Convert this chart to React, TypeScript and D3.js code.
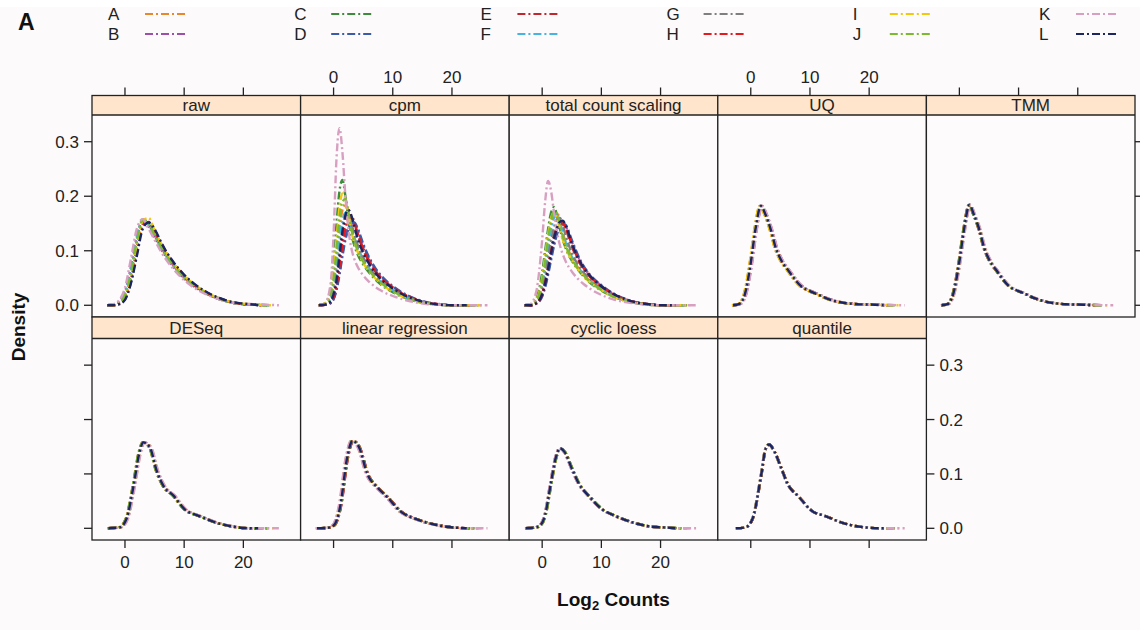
import React from 'react';
import * as d3 from 'd3';

// ---------- data ----------
const SERIES = ['A', 'B', 'C', 'D', 'E', 'F', 'G', 'H', 'I', 'J', 'K', 'L'];
const COLORS = ['#E8872B', '#9B4FA8', '#3C8C3C', '#3A5BA8', '#C0272D', '#45B4E0', '#7F7F7F', '#E41A1C', '#F2C80F', '#7CBB2F', '#D8A0C0', '#1B2560'];
const PANELS = ['raw', 'cpm', 'total count scaling', 'UQ', 'TMM', 'DESeq', 'linear regression', 'cyclic loess', 'quantile'];
const X_TICKS = [0, 10, 20];
const Y_TICKS = [0, 0.1, 0.2, 0.3];
const Y_TICK_LABELS = ['0.0', '0.1', '0.2', '0.3'];
const X_DOMAIN = [-5.57, 29.67];
const Y_DOMAIN = [-0.0215, 0.349];
// right end of each sample's density support
const SERIES_END = [24, 24, 24.5, 23, 23.5, 24, 23, 23, 25, 24, 26, 22.5];

// raw
const RAW_X = [-3, -2, -1, 0, 1, 2, 3, 4, 5, 6, 7, 8, 10, 12, 14, 16, 18, 20, 22, 24, 26];
const RAW_Y = [
  [0, 0.001, 0.005, 0.02, 0.06, 0.12, 0.158, 0.148, 0.128, 0.108, 0.09, 0.075, 0.05, 0.033, 0.02, 0.011, 0.005, 0.002, 0.001, 0, 0],
  [0, 0.001, 0.006, 0.025, 0.07, 0.125, 0.156, 0.145, 0.125, 0.105, 0.088, 0.073, 0.049, 0.032, 0.02, 0.011, 0.005, 0.002, 0.001, 0, 0],
  [0, 0.001, 0.004, 0.018, 0.055, 0.115, 0.157, 0.15, 0.13, 0.11, 0.092, 0.077, 0.052, 0.034, 0.021, 0.012, 0.005, 0.002, 0.001, 0, 0],
  [0, 0, 0.002, 0.011, 0.042, 0.095, 0.143, 0.152, 0.138, 0.117, 0.097, 0.081, 0.055, 0.036, 0.022, 0.013, 0.006, 0.003, 0.001, 0, 0],
  [0, 0, 0.003, 0.014, 0.05, 0.105, 0.15, 0.152, 0.135, 0.114, 0.095, 0.079, 0.053, 0.035, 0.021, 0.012, 0.006, 0.002, 0.001, 0, 0],
  [0, 0.001, 0.005, 0.022, 0.064, 0.122, 0.157, 0.147, 0.127, 0.107, 0.089, 0.074, 0.05, 0.033, 0.02, 0.011, 0.005, 0.002, 0.001, 0, 0],
  [0, 0, 0.003, 0.015, 0.052, 0.108, 0.152, 0.151, 0.133, 0.112, 0.093, 0.078, 0.053, 0.035, 0.021, 0.012, 0.005, 0.002, 0.001, 0, 0],
  [0, 0, 0.003, 0.013, 0.048, 0.102, 0.148, 0.153, 0.136, 0.115, 0.096, 0.08, 0.054, 0.035, 0.022, 0.012, 0.006, 0.002, 0.001, 0, 0],
  [0, 0, 0.003, 0.016, 0.053, 0.11, 0.155, 0.16, 0.138, 0.115, 0.095, 0.079, 0.054, 0.036, 0.022, 0.012, 0.006, 0.003, 0.001, 0, 0],
  [0, 0.001, 0.004, 0.019, 0.058, 0.117, 0.156, 0.149, 0.129, 0.109, 0.091, 0.076, 0.051, 0.034, 0.021, 0.011, 0.005, 0.002, 0.001, 0, 0],
  [0, 0.002, 0.009, 0.032, 0.085, 0.14, 0.158, 0.14, 0.12, 0.1, 0.083, 0.069, 0.046, 0.03, 0.019, 0.011, 0.005, 0.003, 0.002, 0.001, 0],
  [0, 0, 0.002, 0.01, 0.04, 0.09, 0.14, 0.152, 0.14, 0.118, 0.098, 0.082, 0.056, 0.037, 0.023, 0.013, 0.006, 0.003, 0.001, 0, 0],
];

// cpm
const CPM_X = [-2.5, -1.5, -0.5, 0, 0.5, 1, 1.5, 2, 2.5, 3, 3.5, 4, 5, 6, 7, 8, 10, 12, 14, 16, 18, 20, 22];
const CPM_Y = [
  [0, 0.002, 0.015, 0.04, 0.085, 0.14, 0.175, 0.185, 0.17, 0.145, 0.123, 0.106, 0.083, 0.066, 0.053, 0.042, 0.027, 0.016, 0.008, 0.004, 0.001, 0, 0],
  [0, 0.001, 0.004, 0.012, 0.03, 0.06, 0.095, 0.125, 0.143, 0.15, 0.15, 0.14, 0.11, 0.086, 0.067, 0.053, 0.034, 0.02, 0.011, 0.005, 0.002, 0, 0],
  [0, 0.003, 0.03, 0.08, 0.15, 0.21, 0.23, 0.2, 0.16, 0.13, 0.11, 0.095, 0.075, 0.06, 0.048, 0.038, 0.024, 0.014, 0.007, 0.003, 0.001, 0, 0],
  [0, 0.001, 0.004, 0.011, 0.028, 0.056, 0.09, 0.12, 0.14, 0.15, 0.152, 0.143, 0.113, 0.088, 0.069, 0.055, 0.035, 0.021, 0.011, 0.005, 0.002, 0, 0],
  [0, 0.001, 0.006, 0.017, 0.04, 0.08, 0.12, 0.15, 0.163, 0.165, 0.152, 0.133, 0.102, 0.08, 0.063, 0.05, 0.032, 0.019, 0.01, 0.004, 0.002, 0, 0],
  [0, 0.002, 0.012, 0.032, 0.07, 0.12, 0.155, 0.17, 0.165, 0.145, 0.125, 0.108, 0.085, 0.068, 0.054, 0.043, 0.028, 0.016, 0.009, 0.004, 0.001, 0, 0],
  [0, 0.001, 0.009, 0.025, 0.055, 0.1, 0.14, 0.16, 0.165, 0.15, 0.13, 0.113, 0.088, 0.07, 0.056, 0.045, 0.029, 0.017, 0.009, 0.004, 0.001, 0, 0],
  [0, 0.001, 0.005, 0.015, 0.036, 0.072, 0.11, 0.14, 0.157, 0.16, 0.15, 0.134, 0.104, 0.082, 0.064, 0.051, 0.033, 0.019, 0.01, 0.004, 0.002, 0, 0],
  [0, 0.003, 0.025, 0.065, 0.12, 0.18, 0.205, 0.195, 0.165, 0.135, 0.115, 0.1, 0.078, 0.062, 0.05, 0.04, 0.025, 0.015, 0.008, 0.003, 0.001, 0, 0],
  [0, 0.002, 0.02, 0.05, 0.1, 0.16, 0.19, 0.195, 0.17, 0.14, 0.118, 0.102, 0.08, 0.064, 0.051, 0.041, 0.026, 0.015, 0.008, 0.003, 0.001, 0, 0],
  [0, 0.002, 0.04, 0.13, 0.27, 0.325, 0.28, 0.2, 0.14, 0.105, 0.085, 0.072, 0.055, 0.043, 0.034, 0.027, 0.017, 0.01, 0.005, 0.002, 0.001, 0, 0],
  [0, 0.001, 0.007, 0.02, 0.045, 0.09, 0.135, 0.165, 0.175, 0.165, 0.145, 0.125, 0.096, 0.076, 0.06, 0.048, 0.031, 0.018, 0.01, 0.004, 0.001, 0, 0],
];

// total count scaling
const TCS_X = [-3, -2, -1, 0, 0.5, 1, 1.5, 2, 2.5, 3, 3.5, 4, 5, 6, 7, 8, 10, 12, 14, 16, 18, 20, 23];
const TCS_Y = [
  [0, 0.001, 0.007, 0.038, 0.07, 0.11, 0.145, 0.165, 0.17, 0.155, 0.133, 0.114, 0.088, 0.07, 0.056, 0.045, 0.029, 0.017, 0.009, 0.004, 0.002, 0, 0],
  [0, 0, 0.003, 0.018, 0.036, 0.06, 0.088, 0.114, 0.134, 0.145, 0.148, 0.144, 0.117, 0.091, 0.071, 0.056, 0.036, 0.021, 0.011, 0.005, 0.002, 0, 0],
  [0, 0.001, 0.012, 0.06, 0.1, 0.14, 0.17, 0.18, 0.165, 0.14, 0.12, 0.104, 0.082, 0.066, 0.053, 0.042, 0.027, 0.016, 0.008, 0.004, 0.001, 0, 0],
  [0, 0, 0.003, 0.016, 0.033, 0.056, 0.083, 0.109, 0.13, 0.143, 0.15, 0.147, 0.12, 0.093, 0.072, 0.057, 0.037, 0.022, 0.012, 0.005, 0.002, 0, 0],
  [0, 0, 0.004, 0.022, 0.044, 0.072, 0.103, 0.13, 0.148, 0.155, 0.152, 0.14, 0.108, 0.084, 0.066, 0.053, 0.034, 0.02, 0.011, 0.005, 0.002, 0, 0],
  [0, 0.001, 0.007, 0.035, 0.065, 0.103, 0.138, 0.16, 0.165, 0.152, 0.132, 0.114, 0.089, 0.071, 0.057, 0.046, 0.03, 0.017, 0.009, 0.004, 0.002, 0, 0],
  [0, 0.001, 0.005, 0.028, 0.052, 0.085, 0.118, 0.143, 0.158, 0.16, 0.146, 0.127, 0.096, 0.075, 0.06, 0.048, 0.031, 0.018, 0.01, 0.004, 0.002, 0, 0],
  [0, 0, 0.004, 0.02, 0.041, 0.068, 0.098, 0.124, 0.142, 0.15, 0.15, 0.142, 0.112, 0.087, 0.068, 0.054, 0.035, 0.02, 0.011, 0.005, 0.002, 0, 0],
  [0, 0.001, 0.01, 0.05, 0.09, 0.13, 0.16, 0.17, 0.16, 0.14, 0.12, 0.105, 0.083, 0.067, 0.054, 0.043, 0.028, 0.016, 0.009, 0.004, 0.001, 0, 0],
  [0, 0.001, 0.008, 0.045, 0.08, 0.12, 0.155, 0.172, 0.168, 0.148, 0.126, 0.109, 0.085, 0.068, 0.055, 0.044, 0.028, 0.016, 0.009, 0.004, 0.001, 0, 0],
  [0, 0.002, 0.025, 0.12, 0.19, 0.228, 0.21, 0.17, 0.135, 0.11, 0.093, 0.08, 0.062, 0.049, 0.039, 0.031, 0.019, 0.011, 0.006, 0.003, 0.001, 0, 0],
  [0, 0, 0.004, 0.02, 0.04, 0.066, 0.095, 0.122, 0.142, 0.153, 0.155, 0.146, 0.114, 0.088, 0.069, 0.055, 0.035, 0.021, 0.011, 0.005, 0.002, 0, 0],
];

// normalised panels: common curve + per-sample horizontal offset
const UQ_X = [-3, -2, -1, 0, 0.8, 1.7, 2.5, 3.4, 4.2, 4.8, 5.5, 6.2, 7.2, 8.4, 10, 11.3, 12.7, 14.1, 16, 18, 21, 26];
const UQ_Y = [0, 0.002, 0.02, 0.078, 0.14, 0.182, 0.166, 0.138, 0.106, 0.09, 0.076, 0.066, 0.051, 0.036, 0.026, 0.02, 0.013, 0.008, 0.004, 0.002, 0.001, 0];
const UQ_SHIFT = [0.1, -0.1, 0, 0.15, -0.15, 0.05, -0.05, 0.2, -0.2, 0.1, 0.25, 0];

const TMM_X = [-3, -2, -1, 0, 0.8, 1.7, 2.5, 3.4, 4.2, 4.8, 5.5, 6.2, 7.2, 8.4, 10, 11.3, 12.7, 14.1, 16, 18, 21, 26];
const TMM_Y = [0, 0.002, 0.022, 0.08, 0.14, 0.184, 0.165, 0.138, 0.105, 0.089, 0.075, 0.065, 0.05, 0.035, 0.026, 0.02, 0.013, 0.008, 0.004, 0.002, 0.001, 0];
const TMM_SHIFT = [0.08, -0.08, 0.12, 0.05, -0.12, 0.0, 0.1, -0.05, 0.15, -0.1, 0.2, 0];

const DESEQ_X = [-2.8, -1.5, -0.85, 0.28, 1.4, 2.5, 3.1, 4.2, 5.35, 6.5, 8.2, 10.1, 12.7, 15.5, 18.3, 21.7, 27];
const DESEQ_Y = [0, 0.001, 0.002, 0.018, 0.075, 0.142, 0.158, 0.149, 0.106, 0.078, 0.06, 0.035, 0.022, 0.01, 0.003, 0, 0];
const DESEQ_SHIFT = [0.1, -0.1, 0.05, 0.15, -0.05, 0.0, 0.12, -0.12, 0.2, -0.15, 0.25, 0];

const LINREG_X = [-2.8, -1, 0, 1.1, 2.3, 3.2, 4.3, 5.7, 7.4, 9.1, 11.3, 14.2, 17, 19.8, 23, 26.3];
const LINREG_Y = [0, 0.001, 0.005, 0.039, 0.13, 0.161, 0.149, 0.1, 0.075, 0.057, 0.031, 0.016, 0.007, 0.002, 0, 0];
const LINREG_SHIFT = [-0.1, 0.1, -0.15, 0.12, 0.05, -0.05, 0.0, 0.15, -0.2, 0.08, -0.25, 0];

const LOESS_X = [-2.8, -1.5, -0.5, 0.5, 1.5, 2.3, 3, 3.8, 5, 6.2, 8, 10, 12.5, 15.5, 18.5, 21.5, 24];
const LOESS_Y = [0, 0.001, 0.004, 0.025, 0.085, 0.13, 0.147, 0.14, 0.11, 0.082, 0.058, 0.036, 0.022, 0.01, 0.003, 0.001, 0];
const LOESS_SHIFT = [0.05, -0.05, 0.08, -0.08, 0.1, 0.0, -0.1, 0.06, -0.06, 0.12, -0.12, 0];

const QUANT_X = [-2.5, -0.85, 0.28, 1.7, 2.5, 3.1, 3.9, 5.1, 6.2, 8.2, 10.2, 12.7, 15.5, 18.3, 22.3];
const QUANT_Y = [0, 0.002, 0.017, 0.094, 0.146, 0.154, 0.143, 0.112, 0.082, 0.057, 0.033, 0.022, 0.01, 0.003, 0];
const QUANT_SHIFT = [0.04, -0.04, 0.06, -0.06, 0.03, 0.0, -0.03, 0.05, -0.05, 0.02, -0.02, 0];

// ---------- build curves ----------
type Pt = [number, number];

function explicitCurves(xs: number[], ys: number[][]): Pt[][] {
  return ys.map((row) => row.map((y, i) => [xs[i], y] as Pt));
}
function sharedCurves(xs: number[], ys: number[], shifts: number[]): Pt[][] {
  return shifts.map((s) => ys.map((y, i) => [xs[i] + s, y] as Pt));
}
function trimToEnd(pts: Pt[], end: number): Pt[] {
  const kept = pts.filter((p) => p[0] <= end);
  const last = kept[kept.length - 1];
  if (last && last[0] < end && last[1] < 0.004) kept.push([end, 0]);
  return kept;
}

const PANEL_CURVES: Pt[][][] = [
  explicitCurves(RAW_X, RAW_Y),
  explicitCurves(CPM_X, CPM_Y),
  explicitCurves(TCS_X, TCS_Y),
  sharedCurves(UQ_X, UQ_Y, UQ_SHIFT),
  sharedCurves(TMM_X, TMM_Y, TMM_SHIFT),
  sharedCurves(DESEQ_X, DESEQ_Y, DESEQ_SHIFT),
  sharedCurves(LINREG_X, LINREG_Y, LINREG_SHIFT),
  sharedCurves(LOESS_X, LOESS_Y, LOESS_SHIFT),
  sharedCurves(QUANT_X, QUANT_Y, QUANT_SHIFT),
].map((curves) => curves.map((c, si) => trimToEnd(c, SERIES_END[si])));

// ---------- layout ----------
const W = 1140;
const H = 630;
const LEFT = 92;
const PW = (1135 - 92) / 5;
const ROWS = [
  { stripTop: 95.5, stripBot: 115, bot: 317 },
  { stripTop: 317, stripBot: 338.5, bot: 540 },
];
const FONT = '"Liberation Sans", Arial, Helvetica, sans-serif';
const DASH = '8,3,2,3';
const AXIS_COL = '#222';
const TICK = 8;

export default function App() {
  const panels = PANELS.map((name, i) => {
    const row = i < 5 ? 0 : 1;
    const col = i < 5 ? i : i - 5;
    const r = ROWS[row];
    const x0 = LEFT + col * PW;
    const x = d3.scaleLinear().domain(X_DOMAIN).range([x0, x0 + PW]);
    const y = d3.scaleLinear().domain(Y_DOMAIN).range([r.bot, r.stripBot]);
    return { name, i, row, col, r, x0, x, y };
  });

  const line = (x: d3.ScaleLinear<number, number>, y: d3.ScaleLinear<number, number>) =>
    d3.line<Pt>().x((d) => x(d[0])).y((d) => y(d[1])).curve(d3.curveMonotoneX);

  const legendX = SERIES.map((_, i) => 108 + Math.floor(i / 2) * 186.2);
  const legendY = SERIES.map((_, i) => (i % 2 === 0 ? 14 : 34));

  return (
    <svg width={W} height={H} style={{ position: 'absolute', left: 0, top: 0 }} fontFamily={FONT}>
      <rect x={0} y={0} width={W} height={H} fill="#fcfafa" />
      <rect x={0} y={0} width={W} height={7} fill="#ffffff" />
      <defs>
        {panels.map((p) => (
          <clipPath id={`clip${p.i}`} key={p.i}>
            <rect x={p.x0} y={p.r.stripBot} width={PW} height={p.r.bot - p.r.stripBot} />
          </clipPath>
        ))}
      </defs>

      {/* figure letter */}
      <text x={18} y={30} fontSize={23} fontWeight="bold" fill="#111">A</text>

      {/* legend */}
      {SERIES.map((s, i) => (
        <g key={s}>
          <text x={legendX[i]} y={legendY[i] + 6} fontSize={17} fill="#222">{s}</text>
          <line x1={legendX[i] + 37} x2={legendX[i] + 78} y1={legendY[i]} y2={legendY[i]} stroke={COLORS[i]} strokeWidth={1.8} strokeDasharray={DASH} />
        </g>
      ))}

      {/* panels */}
      {panels.map((p) => (
        <g key={p.name}>
          <rect x={p.x0} y={p.r.stripBot} width={PW} height={p.r.bot - p.r.stripBot} fill="#fdfbfc" />
          <g clipPath={`url(#clip${p.i})`}>
            {PANEL_CURVES[p.i].map((c, si) => (
              <path key={si} d={line(p.x, p.y)(c) || ''} fill="none" stroke={COLORS[si]} strokeWidth={2.4} strokeDasharray={DASH} />
            ))}
          </g>
          <rect x={p.x0} y={p.r.stripTop} width={PW} height={p.r.stripBot - p.r.stripTop} fill="#ffe5cc" />
          <line x1={p.x0} x2={p.x0 + PW} y1={p.r.stripBot} y2={p.r.stripBot} stroke={AXIS_COL} strokeWidth={1.3} />
          <rect x={p.x0} y={p.r.stripTop} width={PW} height={p.r.bot - p.r.stripTop} fill="none" stroke={AXIS_COL} strokeWidth={1.3} />
          <text x={p.x0 + PW / 2} y={(p.r.stripTop + p.r.stripBot) / 2 + 6} textAnchor="middle" fontSize={17} fill="#222">{p.name}</text>

          {/* top axis (row 1) */}
          {p.row === 0 && X_TICKS.map((t) => (
            <g key={`t${t}`}>
              <line x1={p.x(t)} x2={p.x(t)} y1={p.r.stripTop - TICK} y2={p.r.stripTop} stroke={AXIS_COL} strokeWidth={1.3} />
              {p.col % 2 === 1 && (
                <text x={p.x(t)} y={83} textAnchor="middle" fontSize={17} fill="#222">{t}</text>
              )}
            </g>
          ))}

          {/* bottom axis (row 2) */}
          {p.row === 1 && X_TICKS.map((t) => (
            <g key={`b${t}`}>
              <line x1={p.x(t)} x2={p.x(t)} y1={p.r.bot} y2={p.r.bot + TICK} stroke={AXIS_COL} strokeWidth={1.3} />
              {p.col % 2 === 0 && (
                <text x={p.x(t)} y={568} textAnchor="middle" fontSize={17} fill="#222">{t}</text>
              )}
            </g>
          ))}

          {/* left axis */}
          {p.col === 0 && Y_TICKS.map((t, k) => (
            <g key={`l${t}`}>
              <line x1={p.x0 - TICK} x2={p.x0} y1={p.y(t)} y2={p.y(t)} stroke={AXIS_COL} strokeWidth={1.3} />
              {p.row === 0 && (
                <text x={p.x0 - 13} y={p.y(t) + 6} textAnchor="end" fontSize={17} fill="#222">{Y_TICK_LABELS[k]}</text>
              )}
            </g>
          ))}

          {/* right axis */}
          {((p.row === 0 && p.col === 4) || (p.row === 1 && p.col === 3)) && Y_TICKS.map((t, k) => (
            <g key={`r${t}`}>
              <line x1={p.x0 + PW} x2={p.x0 + PW + TICK} y1={p.y(t)} y2={p.y(t)} stroke={AXIS_COL} strokeWidth={1.3} />
              {p.row === 1 && (
                <text x={p.x0 + PW + 13} y={p.y(t) + 6} textAnchor="start" fontSize={17} fill="#222">{Y_TICK_LABELS[k]}</text>
              )}
            </g>
          ))}
        </g>
      ))}

      {/* axis titles */}
      <text x={613.5} y={606} textAnchor="middle" fontSize={19} fontWeight="bold" fill="#111">
        Log<tspan fontSize={13} dy={4}>2</tspan><tspan dy={-4}> Counts</tspan>
      </text>
      <text transform="translate(24.5,327) rotate(-90)" textAnchor="middle" fontSize={19} fontWeight="bold" fill="#111">Density</text>
    </svg>
  );
}
